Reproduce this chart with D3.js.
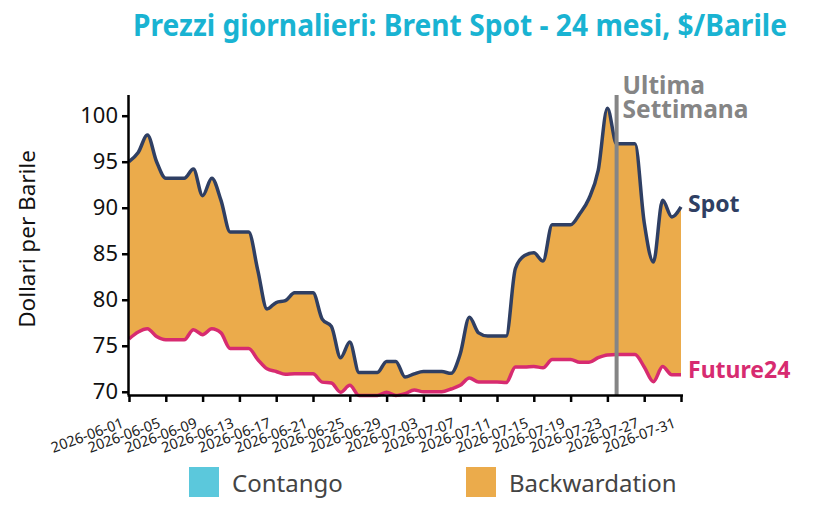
<!DOCTYPE html>
<html>
<head>
<meta charset="utf-8">
<script src="https://cdn.jsdelivr.net/npm/d3@7"></script>
<style>
  body { margin: 0; background: #fff; }
  svg { display: block; font-family: "Noto Sans", "Open Sans", sans-serif; }
</style>
</head>
<body>
<svg id="chart" width="819" height="510"></svg>
<script>
// daily prices, 2026-06-01 .. 2026-07-31
const startDay = "2026-06-01";
const spot = [
  95.0, 96.0, 97.9, 95.0, 93.2, 93.2, 93.2, 94.2, 91.3, 93.2,
  90.8, 87.35, 87.35, 87.35, 83.2, 79.0, 79.7, 79.9, 80.75, 80.75,
  80.75, 77.9, 77.1, 73.7, 75.4, 72.1, 72.1, 72.1, 73.3, 73.3,
  71.6, 71.95, 72.2, 72.2, 72.2, 72.0, 74.1, 78.1, 76.4, 76.05,
  76.05, 76.05, 83.4, 84.8, 85.1, 84.2, 88.15, 88.15, 88.15, 89.35,
  91.0, 94.05, 100.8, 96.95, 96.95, 96.95, 88.4, 84.1, 90.8, 89.0,
  90.1
];
const future24 = [
  75.75, 76.5, 76.85, 76.0, 75.65, 75.65, 75.65, 76.75, 76.2, 76.85,
  76.4, 74.7, 74.7, 74.7, 73.5, 72.5, 72.2, 71.9, 71.95, 71.95,
  71.95, 71.05, 70.95, 69.95, 70.7, 69.6, 69.6, 69.6, 69.95, 69.6,
  69.8, 70.2, 70.0, 70.0, 70.0, 70.3, 70.7, 71.5, 71.05, 71.05,
  71.05, 71.0, 72.7, 72.7, 72.75, 72.6, 73.5, 73.5, 73.5, 73.2,
  73.2, 73.7, 74.0, 74.05, 74.05, 74.05, 72.7, 71.1, 72.75, 71.85,
  71.85
];
const yTicks = [70, 75, 80, 85, 90, 95, 100];
const lastWeekDay = "2026-07-24";
const legendItems = ["Contango", "Backwardation"];

const parse = d3.utcParse("%Y-%m-%d");
const fmt = d3.utcFormat("%Y-%m-%d");
const t0 = parse(startDay);
const dates = spot.map((_, i) => d3.utcDay.offset(t0, i));
const data = dates.map((d, i) => ({ date: d, spot: spot[i], fut: future24[i] }));

const colors = {
  spot: "#2f3f63",
  fut: "#d72b70",
  back: "#ebab4b",
  cont: "#5bc8dc",
  title: "#19b3d2",
  grey: "#858585"
};

const svg = d3.select("#chart");
const plot = { left: 129, right: 681, top: 95, bottom: 395 };

const x = d3.scaleUtc()
  .domain([dates[0], dates[dates.length - 1]])
  .range([plot.left, plot.right]);
const y = d3.scaleLinear()
  .domain([69.65, 102.25])
  .range([plot.bottom, plot.top]);

const curve = d3.curveMonotoneX;

// title
svg.append("text")
  .attr("x", 133).attr("y", 36)
  .attr("textLength", 654)
  .attr("lengthAdjust", "spacingAndGlyphs")
  .attr("font-size", 31).attr("font-weight", 700)
  .attr("fill", colors.title)
  .text("Prezzi giornalieri: Brent Spot - 24 mesi, $/Barile");

// clip regions above / below the future line
const defs = svg.append("defs");
defs.append("clipPath").attr("id", "clip-above")
  .append("path")
  .attr("d", d3.area().curve(curve).x(d => x(d.date)).y0(0).y1(d => y(d.fut))(data));
defs.append("clipPath").attr("id", "clip-below")
  .append("path")
  .attr("d", d3.area().curve(curve).x(d => x(d.date)).y0(510).y1(d => y(d.fut))(data));

const band = d3.area().curve(curve)
  .x(d => x(d.date))
  .y0(d => y(d.fut))
  .y1(d => y(d.spot));

svg.append("path").datum(data)
  .attr("clip-path", "url(#clip-above)")
  .attr("fill", colors.back)
  .attr("d", band);
svg.append("path").datum(data)
  .attr("clip-path", "url(#clip-below)")
  .attr("fill", colors.cont)
  .attr("d", band);

// lines
const line = key => d3.line().curve(curve).x(d => x(d.date)).y(d => y(d[key]));
svg.append("path").datum(data)
  .attr("fill", "none").attr("stroke", colors.fut)
  .attr("stroke-width", 3.5).attr("stroke-linejoin", "round")
  .attr("d", line("fut"));
svg.append("path").datum(data)
  .attr("fill", "none").attr("stroke", colors.spot)
  .attr("stroke-width", 3.5).attr("stroke-linejoin", "round")
  .attr("d", line("spot"));

// last week marker
const xm = x(parse(lastWeekDay));
svg.append("line")
  .attr("x1", xm).attr("x2", xm)
  .attr("y1", plot.top).attr("y2", plot.bottom)
  .attr("stroke", colors.grey).attr("stroke-width", 4);
svg.append("text")
  .attr("x", xm + 6).attr("y", 94)
  .attr("font-size", 24.5).attr("font-weight", 700).attr("fill", colors.grey)
  .text("Ultima");
svg.append("text")
  .attr("x", xm + 6).attr("y", 118)
  .attr("font-size", 24.5).attr("font-weight", 700).attr("fill", colors.grey)
  .text("Settimana");

// end labels
const last = data[data.length - 1];
svg.append("text")
  .attr("x", x(last.date) + 7).attr("y", y(last.spot) + 5)
  .attr("font-size", 23).attr("font-weight", 700).attr("fill", colors.spot)
  .text("Spot");
svg.append("text")
  .attr("x", x(last.date) + 7).attr("y", y(last.fut) + 3)
  .attr("font-size", 23).attr("font-weight", 700).attr("fill", colors.fut)
  .text("Future24");

// axes
const yAxis = svg.append("g")
  .attr("transform", `translate(${plot.left},0)`)
  .call(d3.axisLeft(y).tickValues(yTicks).tickSize(7).tickPadding(4));
yAxis.select(".domain").attr("d", `M-0.5,${plot.top}V${plot.bottom}`);
yAxis.selectAll("path, line").attr("stroke", "#000").attr("stroke-width", 2.5);
yAxis.selectAll("text").attr("font-size", 22).attr("fill", "#111")
  .attr("font-family", '"Noto Sans", sans-serif');

const xAxis = svg.append("g")
  .attr("transform", `translate(0,${plot.bottom})`)
  .call(d3.axisBottom(x).tickValues(d3.range(0, dates.length, 4).map(i => dates[i]))
    .tickSize(7).tickFormat(fmt));
xAxis.select(".domain").attr("d", `M${plot.left - 1.5},0.5H${plot.right + 2}`);
xAxis.selectAll("path, line").attr("stroke", "#000").attr("stroke-width", 2.5);
xAxis.selectAll("text")
  .attr("font-size", 14.5).attr("fill", "#222")
  .attr("font-family", '"Noto Sans", sans-serif')
  .attr("text-anchor", "end")
  .attr("dy", 0)
  .attr("y", 0)
  .attr("transform", "translate(-5,32) rotate(-20)");

// y label
svg.append("text")
  .attr("transform", "translate(35,239) rotate(-90)")
  .attr("text-anchor", "middle")
  .attr("font-size", 22.5).attr("fill", "#111")
  .text("Dollari per Barile");

// legend
const legend = svg.append("g");
const legX = [189, 466];
legendItems.forEach((name, i) => {
  legend.append("rect")
    .attr("x", legX[i]).attr("y", 467)
    .attr("width", 30).attr("height", 30)
    .attr("fill", i === 0 ? colors.cont : colors.back);
  legend.append("text")
    .attr("x", legX[i] + 43).attr("y", 492)
    .attr("font-size", 24).attr("fill", "#444")
    .text(name);
});
</script>
</body>
</html>
